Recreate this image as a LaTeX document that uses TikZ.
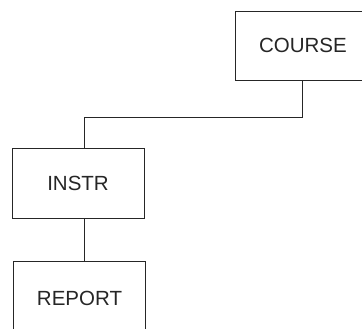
\documentclass[tikz,border=0pt]{standalone}
\usepackage{fontspec}
\setmainfont{Liberation Sans}
\begin{document}
\begin{tikzpicture}[x=1pt,y=1pt,
  box/.style={draw=black!85, line width=0.9pt, inner sep=0pt, font=\fontsize{20.5}{24}\selectfont, text=black!85},
  link/.style={draw=black!85, line width=0.9pt}]
\useasboundingbox (0,0) rectangle (362,329);
\clip (0,0) rectangle (362,329);
\node[box, minimum width=136pt, minimum height=69pt] (course) at (303,283.5) {COURSE};
\node[box, minimum width=132pt, minimum height=70pt] (instr) at (78,146) {INSTR};
\node[box, minimum width=132pt, minimum height=74pt] (report) at (79.5,31) {REPORT};
\draw[link] ([xshift=-1pt]course.south) -- ++(0,-37) -| ([xshift=6pt]instr.north);
\draw[link] ([xshift=6pt]instr.south) -- ([xshift=6pt]instr.south |- report.north);
\end{tikzpicture}
\end{document}
